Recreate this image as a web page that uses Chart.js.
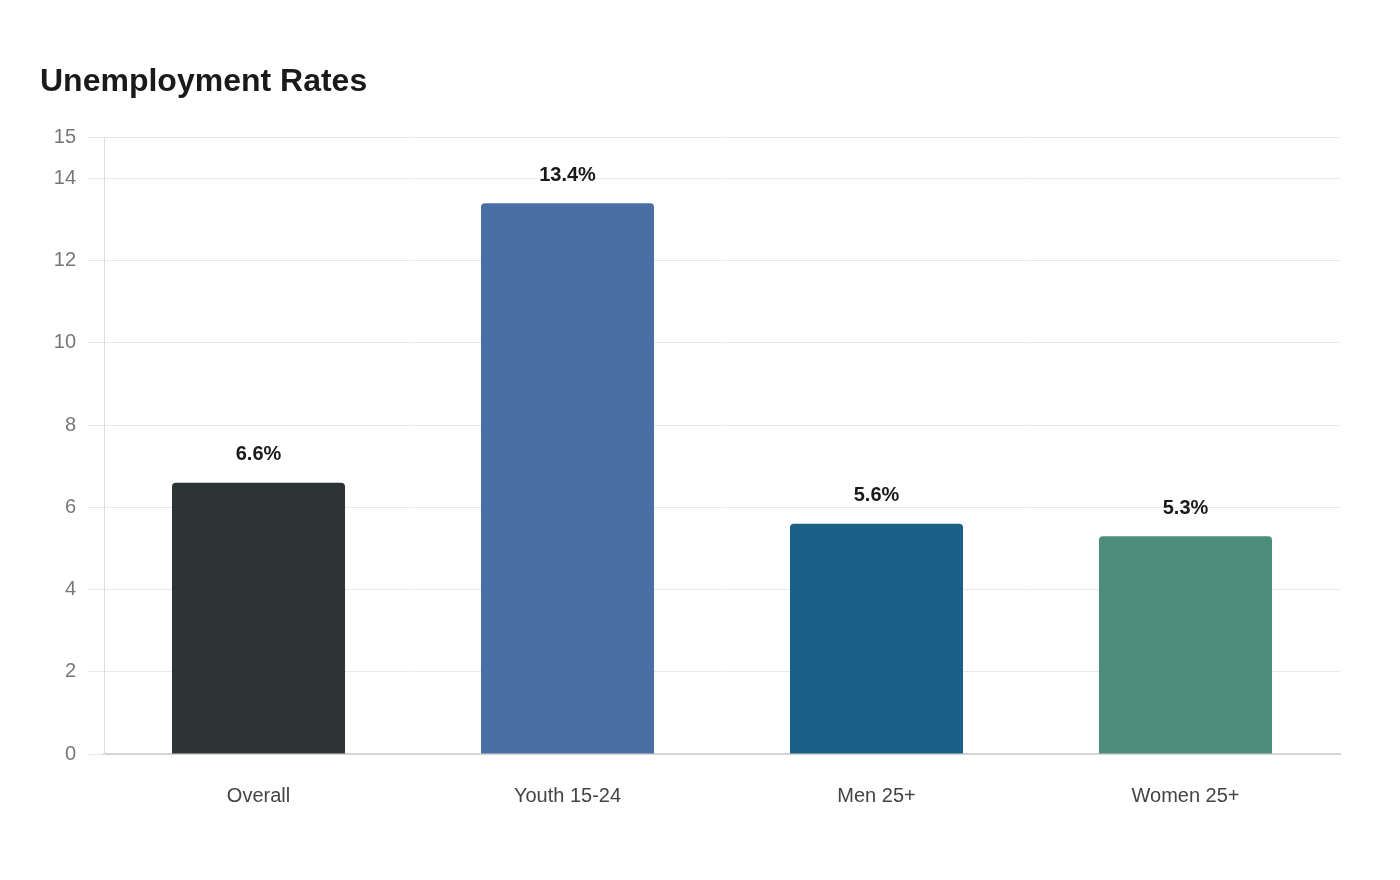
<!DOCTYPE html>
<html>
<head>
<meta charset="utf-8">
<title>Unemployment Rates</title>
<script src="https://cdn.jsdelivr.net/npm/chart.js@4.4.0/dist/chart.umd.min.js"></script>
<style>
    html, body { margin: 0; padding: 0; background: #ffffff; }
    #contenedor { width: 1400px; height: 880px; position: relative; }
</style>
</head>
<body>
<div id="contenedor"><canvas id="grafica"></canvas></div>
<script>
// datos del grafico
const categorias = ['Overall', 'Youth 15-24', 'Men 25+', 'Women 25+'];
const tasas = [6.6, 13.4, 5.6, 5.3];
const colores = ['#2d3436', '#4a6fa5', '#1a6087', '#4e8d7b'];
const ticksY = [0, 2, 4, 6, 8, 10, 12, 14, 15];

// etiquetas encima de cada barra
const etiquetasBarras = {
    id: 'etiquetasBarras',
    afterDatasetsDraw(chart) {
        const ctx = chart.ctx;
        const meta = chart.getDatasetMeta(0);
        ctx.save();
        ctx.font = 'bold 20px "Liberation Sans", Arial, sans-serif';
        ctx.fillStyle = '#1a1a1a';
        ctx.textAlign = 'center';
        ctx.textBaseline = 'bottom';
        meta.data.forEach((bar, i) => {
            ctx.fillText(tasas[i].toFixed(1) + '%', bar.x, bar.y - 18);
        });
        ctx.restore();
    }
};

new Chart(document.getElementById('grafica'), {
    type: 'bar',
    data: {
        labels: categorias,
        datasets: [{
            data: tasas,
            backgroundColor: colores,
            borderRadius: 4,
            borderSkipped: 'bottom',
            barPercentage: 0.7,
            categoryPercentage: 0.8
        }]
    },
    options: {
        responsive: true,
        maintainAspectRatio: false,
        animation: false,
        layout: { padding: { left: 40, right: 60, top: 63, bottom: 50 } },
        plugins: {
            legend: { display: false },
            tooltip: { enabled: false },
            title: {
                display: true,
                text: 'Unemployment Rates',
                align: 'start',
                color: '#1a1a1a',
                font: { family: '"Liberation Sans", Arial, sans-serif', size: 32, weight: 'bold', lineHeight: 1.2 },
                padding: { top: 0, bottom: 36 }
            }
        },
        scales: {
            x: {
                grid: { display: false },
                border: { color: '#d4d4d4', width: 2 },
                ticks: {
                    color: '#444444',
                    padding: 22,
                    font: { family: '"Liberation Sans", Arial, sans-serif', size: 20 }
                }
            },
            y: {
                min: 0,
                max: 15,
                afterBuildTicks: axis => { axis.ticks = ticksY.map(v => ({ value: v })); },
                afterFit: axis => { axis.width = 64; },
                grid: { color: '#e9e9e9', tickLength: 16 },
                border: { color: '#dddddd' },
                ticks: {
                    color: '#777777',
                    padding: 12,
                    font: { family: '"Liberation Sans", Arial, sans-serif', size: 20 }
                }
            }
        }
    },
    plugins: [etiquetasBarras]
});
</script>
</body>
</html>
